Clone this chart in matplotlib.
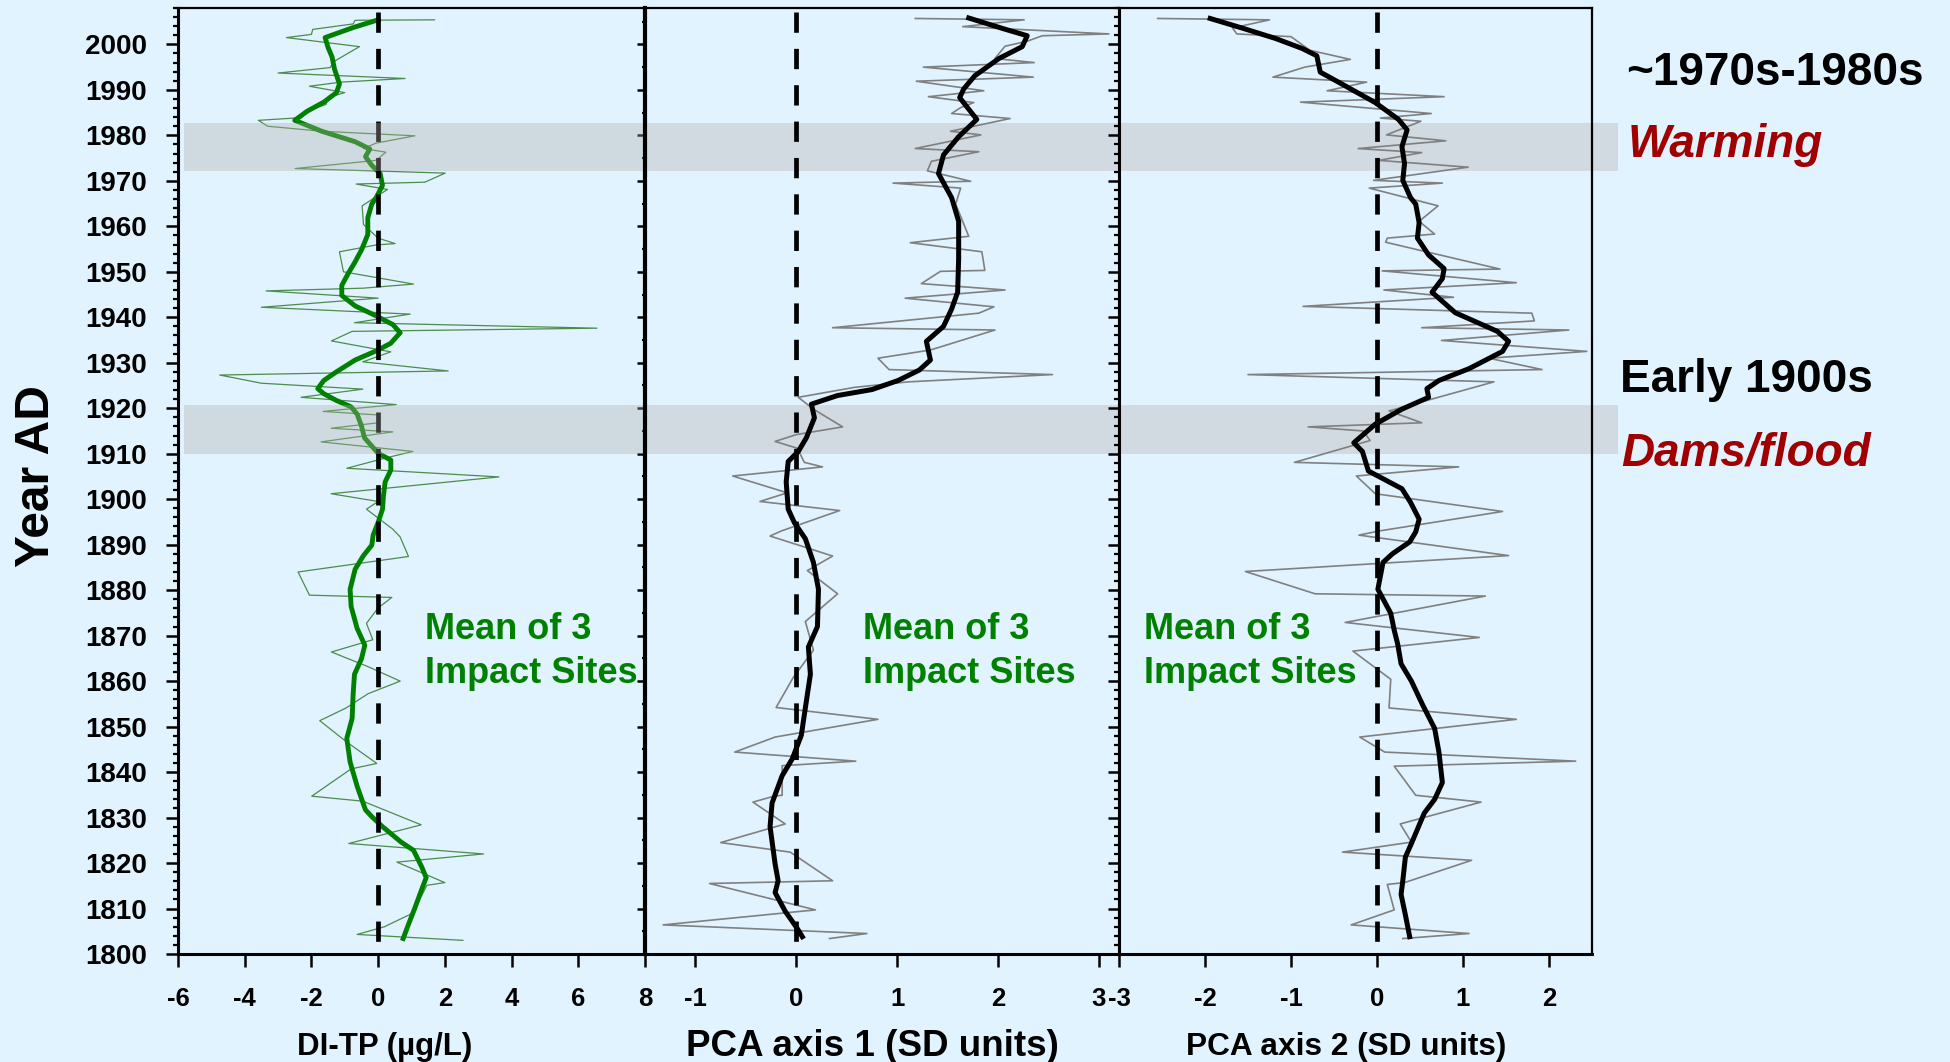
import matplotlib
matplotlib.use('Agg')
import matplotlib.pyplot as plt
from matplotlib.ticker import MultipleLocator, FixedLocator, FuncFormatter

plt.rcParams['font.family'] = ['Liberation Sans', 'DejaVu Sans']
plt.rcParams['font.weight'] = 'bold'
plt.rcParams['axes.unicode_minus'] = False

# ---------------- data ----------------
# Panel 1: DI-TP (ug/L), raw mean of 3 impact sites
ditp_raw_year = [
    2005.4, 2005.3, 2004.5, 2003.3, 2002.2, 2001.5, 1999.5, 1996.3, 1994.9, 1993.7,
    1992.5, 1991.7, 1990.8, 1989.4, 1988.3, 1986.8, 1985.3, 1983.9, 1983.3, 1982.0,
    1980.9, 1979.9, 1978.3, 1977.1, 1976.3, 1974.5, 1972.7, 1971.7, 1969.7, 1969.3,
    1968.1, 1965.6, 1964.5, 1960.4, 1957.4, 1956.2, 1955.9, 1954.4, 1950.0, 1947.3,
    1946.4, 1945.8, 1944.2, 1942.2, 1940.7, 1938.8, 1937.6, 1936.9, 1934.8, 1932.4,
    1930.2, 1928.2, 1927.3, 1925.5, 1924.2, 1922.4, 1920.8, 1919.3, 1918.5, 1916.8,
    1915.6, 1914.8, 1912.6, 1910.5, 1909.0, 1906.8, 1904.9, 1902.3, 1901.2, 1899.5,
    1897.8, 1893.4, 1891.7, 1887.4, 1884.0, 1878.9, 1878.4, 1876.1, 1872.7, 1869.1,
    1866.4, 1863.2, 1860.0, 1857.2, 1854.1, 1851.3, 1846.6, 1841.9, 1840.7, 1834.7,
    1833.6, 1828.4, 1824.3, 1822.0, 1820.2, 1815.7, 1815.1, 1809.0, 1806.0, 1804.3,
    1803.0]
ditp_raw = [
    1.69, -0.69, -0.75, -1.96, -2.00, -2.75, -0.56, -1.31, -1.44, -3.00,
    0.81, -1.12, -2.06, -1.00, -1.50, -1.56, -2.15, -2.29, -3.59, -3.31,
    -1.69, 1.10, -0.06, -0.44, 0.23, -0.06, -2.49, 2.01, 1.40, -0.66,
    0.28, -0.25, -0.48, -0.44, 0.00, 0.51, -0.06, -1.16, -1.04, 1.06,
    -0.44, -3.36, 0.00, -3.50, 0.96, -0.71, 6.56, -0.78, -1.40, 0.38,
    -0.46, 2.10, -4.75, -3.50, -0.46, -2.31, 0.54, -1.65, 0.04, 0.00,
    -1.41, 0.44, -1.71, 1.04, 0.19, -0.94, 3.62, 0.09, -1.41, 0.00,
    -0.35, 0.44, 0.66, 0.91, -2.40, -2.06, 0.41, 0.00, -0.35, -0.16,
    -1.40, -0.31, 0.66, -0.31, -0.96, -1.75, -0.94, -0.04, -0.81, -1.99,
    -0.46, 1.29, -0.88, 3.16, 0.56, 2.00, 1.46, 1.04, 0.19, -0.63,
    2.54]

# Panel 1: smoothed trend
ditp_smooth_year = [
    2005.4, 2003.7, 2001.5, 1999.3, 1997.2, 1994.6, 1991.3, 1989.4, 1987.3, 1985.3,
    1983.3, 1980.9, 1978.6, 1977.0, 1975.3, 1973.4, 1971.6, 1969.0, 1966.3, 1964.9,
    1961.9, 1958.2, 1954.8, 1952.2, 1949.6, 1947.0, 1944.8, 1942.5, 1940.3, 1938.4,
    1936.6, 1934.3, 1932.8, 1930.6, 1928.0, 1926.1, 1924.3, 1923.2, 1921.7, 1920.3,
    1918.7, 1916.1, 1913.5, 1910.1, 1908.6, 1906.4, 1903.8, 1900.8, 1897.8, 1894.9,
    1892.1, 1889.9, 1887.6, 1884.6, 1880.2, 1876.4, 1871.6, 1867.9, 1864.9, 1861.5,
    1857.1, 1851.8, 1847.4, 1842.2, 1836.9, 1831.7, 1830.2, 1828.0, 1824.6, 1822.8,
    1819.1, 1816.8, 1813.1, 1810.1, 1807.1, 1803.4]
ditp_smooth = [
    0.00, -0.75, -1.59, -1.50, -1.38, -1.31, -1.16, -1.25, -1.63, -2.13,
    -2.50, -1.69, -0.69, -0.25, -0.38, -0.19, 0.06, 0.13, -0.06, -0.19,
    -0.31, -0.31, -0.50, -0.69, -0.90, -1.09, -1.09, -0.69, -0.06, 0.44,
    0.66, 0.38, 0.00, -0.69, -1.25, -1.63, -1.81, -1.63, -1.25, -0.81,
    -0.63, -0.50, -0.41, 0.00, 0.38, 0.38, 0.21, 0.16, 0.13, 0.00,
    -0.15, -0.19, -0.44, -0.69, -0.84, -0.81, -0.63, -0.40, -0.50, -0.71,
    -0.75, -0.78, -0.94, -0.84, -0.63, -0.38, -0.19, 0.13, 0.69, 1.06,
    1.31, 1.44, 1.25, 1.10, 0.94, 0.75]

# Panel 2: PCA axis 1 (SD units)
pca1_raw_year = [
    2005.7, 2005.4, 2003.9, 2002.3, 2001.9, 2000.7, 1999.6, 1996.9, 1996.0, 1995.0,
    1992.8, 1991.9, 1989.8, 1988.5, 1987.2, 1986.1, 1984.8, 1983.7, 1980.9, 1980.1,
    1977.1, 1976.4, 1974.3, 1972.2, 1969.9, 1969.5, 1968.4, 1964.9, 1957.8, 1956.4,
    1954.4, 1950.3, 1950.1, 1947.4, 1946.0, 1944.2, 1942.3, 1940.9, 1937.7, 1937.2,
    1932.8, 1931.0, 1928.5, 1927.4, 1925.8, 1924.6, 1922.4, 1919.8, 1915.9, 1914.2,
    1912.7, 1911.2, 1908.1, 1907.1, 1905.1, 1901.4, 1899.5, 1897.5, 1893.0, 1891.9,
    1887.5, 1884.3, 1879.2, 1873.1, 1866.8, 1860.8, 1854.2, 1851.6, 1847.7, 1844.4,
    1842.4, 1841.4, 1834.9, 1834.7, 1833.4, 1828.6, 1824.5, 1822.4, 1816.1, 1815.5,
    1809.7, 1806.4, 1804.5, 1803.4]
pca1_raw = [
    1.18, 2.26, 1.65, 3.10, 2.44, 2.29, 2.07, 1.97, 2.36, 1.26,
    2.35, 1.19, 1.86, 1.31, 1.76, 1.63, 1.54, 2.12, 1.53, 1.83,
    1.18, 1.81, 1.34, 1.30, 1.73, 0.96, 1.63, 1.58, 1.71, 1.13,
    1.84, 1.87, 1.43, 1.24, 2.07, 1.08, 1.96, 1.81, 0.36, 1.97,
    1.33, 0.81, 0.92, 2.54, 1.11, 0.58, 0.02, 0.17, 0.46, 0.00,
    -0.21, 0.01, 0.08, 0.26, -0.63, -0.09, -0.36, 0.43, -0.15, -0.26,
    0.36, 0.11, 0.41, 0.09, 0.17, -0.03, -0.20, 0.81, -0.21, -0.61,
    0.59, -0.14, -0.14, -0.22, -0.43, -0.11, -0.75, -0.06, 0.36, -0.86,
    0.19, -1.32, 0.70, 0.33]
pca1_smooth_year = [
    2005.8, 2003.4, 2001.9, 1999.5, 1996.9, 1993.1, 1990.2, 1988.3, 1983.5, 1979.7,
    1975.7, 1971.6, 1966.3, 1961.1, 1952.9, 1945.5, 1941.8, 1938.0, 1934.7, 1930.6,
    1928.4, 1926.1, 1924.1, 1922.8, 1920.9, 1917.9, 1913.5, 1910.5, 1908.3, 1903.8,
    1897.8, 1894.9, 1891.3, 1886.1, 1880.2, 1872.0, 1867.5, 1861.5, 1854.1, 1848.1,
    1842.9, 1839.2, 1833.2, 1828.0, 1819.8, 1816.1, 1813.5, 1809.4, 1805.6, 1803.8]
pca1_smooth = [
    1.71, 2.06, 2.29, 2.24, 2.01, 1.77, 1.66, 1.62, 1.79, 1.61,
    1.46, 1.41, 1.54, 1.61, 1.61, 1.60, 1.54, 1.46, 1.29, 1.33,
    1.22, 1.01, 0.75, 0.41, 0.15, 0.18, 0.10, 0.02, -0.08, -0.10,
    -0.08, -0.02, 0.09, 0.17, 0.22, 0.21, 0.12, 0.14, 0.09, 0.05,
    -0.04, -0.14, -0.24, -0.26, -0.21, -0.18, -0.21, -0.11, 0.01, 0.06]

# Panel 3: PCA axis 2 (SD units)
pca2_raw_year = [
    2005.7, 2005.4, 2003.6, 2002.3, 2001.7, 1998.7, 1996.7, 1995.0, 1992.8, 1991.7,
    1989.8, 1988.5, 1987.3, 1984.8, 1983.8, 1983.1, 1980.1, 1978.8, 1977.1, 1976.2,
    1974.5, 1973.0, 1970.1, 1969.5, 1968.4, 1964.5, 1961.1, 1958.3, 1957.4, 1956.5,
    1950.6, 1950.2, 1947.6, 1946.0, 1944.4, 1942.4, 1940.9, 1939.2, 1937.7, 1937.2,
    1934.9, 1932.5, 1931.0, 1928.5, 1927.4, 1925.8, 1919.4, 1916.8, 1915.9, 1915.0,
    1912.9, 1908.1, 1907.1, 1905.1, 1901.2, 1897.3, 1893.0, 1892.1, 1887.6, 1884.1,
    1879.2, 1878.7, 1872.9, 1869.6, 1866.6, 1860.4, 1854.1, 1851.6, 1847.7, 1844.4,
    1842.4, 1841.3, 1834.9, 1833.4, 1828.6, 1824.6, 1822.4, 1820.6, 1815.7, 1815.3,
    1809.7, 1806.4, 1804.5, 1803.4]
pca2_raw = [
    -2.55, -1.25, -1.68, -1.63, -1.00, -0.78, -0.31, -0.84, -1.21, -0.12,
    -0.58, 0.78, -0.89, 0.63, 0.04, 0.51, 0.11, 0.80, -0.22, 0.52,
    0.02, 1.06, -0.04, 0.76, -0.09, 0.71, 0.49, 0.67, 0.12, 0.10,
    1.43, 0.06, 1.62, 0.08, 0.89, -0.86, 1.80, 1.83, 0.52, 2.23,
    0.75, 2.44, 1.30, 1.92, -1.50, 1.36, 0.14, 0.52, -0.80, -0.16,
    -0.08, -0.96, 0.95, -0.24, -0.02, 1.46, 0.02, -0.21, 1.53, -1.53,
    -0.72, 1.26, -0.37, 1.19, -0.28, 0.16, 0.14, 1.62, -0.20, 0.09,
    2.31, 0.20, 0.45, 1.21, 0.27, 0.40, -0.40, 1.10, 0.32, 0.12,
    0.20, -0.30, 1.07, 0.30]
pca2_smooth_year = [
    2005.7, 2003.6, 2001.3, 1999.1, 1997.5, 1993.9, 1991.3, 1987.2, 1983.5, 1981.2,
    1977.5, 1973.8, 1970.1, 1966.3, 1964.9, 1960.8, 1957.4, 1953.7, 1950.7, 1948.5,
    1945.5, 1941.0, 1936.9, 1934.7, 1932.5, 1928.7, 1926.1, 1924.3, 1922.4, 1919.8,
    1916.5, 1912.4, 1910.5, 1906.2, 1902.3, 1899.3, 1895.6, 1892.8, 1890.6, 1888.0,
    1886.1, 1880.2, 1874.9, 1871.2, 1868.2, 1863.8, 1860.0, 1854.8, 1849.6, 1844.4,
    1837.7, 1834.0, 1831.0, 1824.3, 1821.3, 1816.1, 1813.1, 1808.6, 1803.8]
pca2_smooth = [
    -1.94, -1.57, -1.18, -0.87, -0.70, -0.66, -0.41, -0.02, 0.25, 0.35,
    0.29, 0.32, 0.30, 0.39, 0.45, 0.49, 0.47, 0.60, 0.78, 0.76,
    0.64, 0.91, 1.40, 1.53, 1.46, 1.07, 0.72, 0.58, 0.60, 0.29,
    -0.02, -0.27, -0.17, -0.10, 0.29, 0.39, 0.49, 0.45, 0.38, 0.18,
    0.07, 0.01, 0.16, 0.20, 0.24, 0.28, 0.40, 0.53, 0.67, 0.72,
    0.76, 0.67, 0.55, 0.40, 0.33, 0.30, 0.28, 0.33, 0.38]

# shaded event periods (years) and zero reference-line span
warming_band = (1972.2, 1982.8)
dams_band = (1910.0, 1920.8)
zero_line_span = (2007.2, 1802.0)
year_range = (1800, 2008)

x_labels = ['DI-TP (µg/L)', 'PCA axis 1 (SD units)', 'PCA axis 2 (SD units)']
x_limits = [(-6, 8), (-1.5, 3.2), (-3, 2.5)]
x_ticks = [[-6, -4, -2, 0, 2, 4, 6, 8], [-1, 0, 1, 2, 3], [-3, -2, -1, 0, 1, 2]]
panel_text = ['Mean of 3', 'Impact Sites']
notes = ['~1970s-1980s', 'Warming', 'Early 1900s', 'Dams/flood']

# ---------------- styling ----------------
BG = '#E1F3FE'
BAND = '#D0DAE0'
GREEN = '#008000'
THIN_GREEN = '#4C8C4C'
GREY = '#808080'
DARKRED = '#A00000'

W, H = 1950, 1062
fig = plt.figure(figsize=(W / 100, H / 100), dpi=100, facecolor=BG)

top_px, bot_px = 8, 954
edges = [178, 645, 1119, 1592]
axes = []
for i in range(3):
    ax = fig.add_axes([edges[i] / W, 1 - bot_px / H,
                       (edges[i + 1] - edges[i]) / W, (bot_px - top_px) / H])
    ax.set_facecolor(BG)
    ax.set_zorder(i)
    ax.set_ylim(*year_range)
    ax.set_xlim(*x_limits[i])
    ax.xaxis.set_major_locator(FixedLocator(x_ticks[i]))
    ax.xaxis.set_major_formatter(FuncFormatter(lambda v, p: f'{v:g}'))
    ax.tick_params(axis='x', which='major', direction='out', length=9.5,
                   width=1.8, labelsize=18.5, pad=14)
    ax.tick_params(axis='x', which='minor', bottom=False)
    for s in ax.spines.values():
        s.set_linewidth(1.6)
        s.set_color('black')
    ax.spines['bottom'].set_linewidth(2.2)
    axes.append(ax)

ax1, ax2, ax3 = axes

# y axes
ax1.yaxis.set_major_locator(MultipleLocator(10))
ax1.yaxis.set_minor_locator(MultipleLocator(2))
ax1.yaxis.set_major_formatter(FuncFormatter(lambda v, p: f'{int(v)}'))
ax1.tick_params(axis='y', which='major', direction='out', length=8.5, width=1.8,
                labelsize=20, pad=14, right=False)
ax1.tick_params(axis='y', which='minor', direction='out', length=3.8, width=1.6,
                right=False)
ax1.spines['left'].set_linewidth(2.2)
ax1.set_axisbelow(False)
sec = ax1.secondary_yaxis('right')
sec.yaxis.set_major_locator(MultipleLocator(10))
sec.yaxis.set_minor_locator(MultipleLocator(5))
sec.tick_params(axis='y', which='major', direction='in', length=6, width=1.8,
                labelright=False)
sec.tick_params(axis='y', which='minor', direction='in', length=2.5, width=1.6)
sec.spines['right'].set_linewidth(1.6)

ax2.yaxis.set_major_locator(MultipleLocator(10))
ax2.yaxis.set_minor_locator(MultipleLocator(2))
ax2.tick_params(axis='y', which='both', left=False, labelleft=False,
                right=True, labelright=False, direction='in')
ax2.tick_params(axis='y', which='major', length=8, width=1.8)
ax2.tick_params(axis='y', which='minor', length=3.6, width=1.6)
ax2.spines['left'].set_linewidth(3.0)
ax2.spines['right'].set_linewidth(2.2)

ax3.tick_params(axis='y', which='both', left=False, right=False,
                labelleft=False, labelright=False)
ax3.spines['left'].set_linewidth(2.2)

# bands
for b in (warming_band, dams_band):
    ax1.axhspan(b[0], b[1], xmin=0.013, xmax=1, color='#B0ADA8', alpha=0.35,
                lw=0, zorder=2.2)
    ax2.axhspan(b[0], b[1], color=BAND, lw=0, zorder=0.5)
    ax3.axhspan(b[0], b[1], xmin=0, xmax=1.055, color=BAND, lw=0, zorder=0.5,
                clip_on=False)

# zero reference lines
for ax in axes:
    ax.plot([0, 0], list(zero_line_span), color='black', lw=3.4,
            linestyle=(0, (4.3, 3.4)), zorder=2.1, solid_capstyle='butt',
            dash_capstyle='butt')

# series
ax1.plot(ditp_raw, ditp_raw_year, color=THIN_GREEN, lw=0.9, zorder=2)
ax1.plot(ditp_smooth, ditp_smooth_year, color=GREEN, lw=3.5, zorder=2.05)
ax2.plot(pca1_raw, pca1_raw_year, color=GREY, lw=1.2, zorder=2)
ax2.plot(pca1_smooth, pca1_smooth_year, color='black', lw=3.6, zorder=2.2)
ax3.plot(pca2_raw, pca2_raw_year, color=GREY, lw=1.2, zorder=2)
ax3.plot(pca2_smooth, pca2_smooth_year, color='black', lw=3.6, zorder=2.2)

# panel texts
text_x = [0.529, 0.46, 0.053]
for ax, tx in zip(axes, text_x):
    ax.text(tx, 0.3333, panel_text[0], transform=ax.transAxes, color=GREEN,
            fontsize=26, fontweight='bold', va='baseline', ha='left', zorder=5)
    ax.text(tx, 0.2868, panel_text[1], transform=ax.transAxes, color=GREEN,
            fontsize=26, fontweight='bold', va='baseline', ha='left', zorder=5)

# x labels
label_x = [0.443, 0.479, 0.48]
label_size = [22.5, 26.5, 22.8]
for ax, lx, lab, fs in zip(axes, label_x, x_labels, label_size):
    ax.text(lx, -0.098, lab, transform=ax.transAxes, ha='center', va='center',
            fontsize=fs, fontweight='bold')

# y label
fig.text(37 / W, 1 - 476 / H, 'Year AD', rotation=90, ha='center', va='center',
         fontsize=34.5, fontweight='bold')

# right-side notes
fig.text(1626 / W, 1 - 85 / H, notes[0], fontsize=33, fontweight='bold',
         color='black', ha='left', va='baseline')
fig.text(1628 / W, 1 - 157 / H, notes[1], fontsize=33, fontweight='bold',
         fontstyle='italic', color=DARKRED, ha='left', va='baseline')
fig.text(1620 / W, 1 - 392 / H, notes[2], fontsize=33, fontweight='bold',
         color='black', ha='left', va='baseline')
fig.text(1621 / W, 1 - 465 / H, notes[3], fontsize=33, fontweight='bold',
         fontstyle='italic', color=DARKRED, ha='left', va='baseline')

fig.savefig('out.png', dpi=100, facecolor=BG)
